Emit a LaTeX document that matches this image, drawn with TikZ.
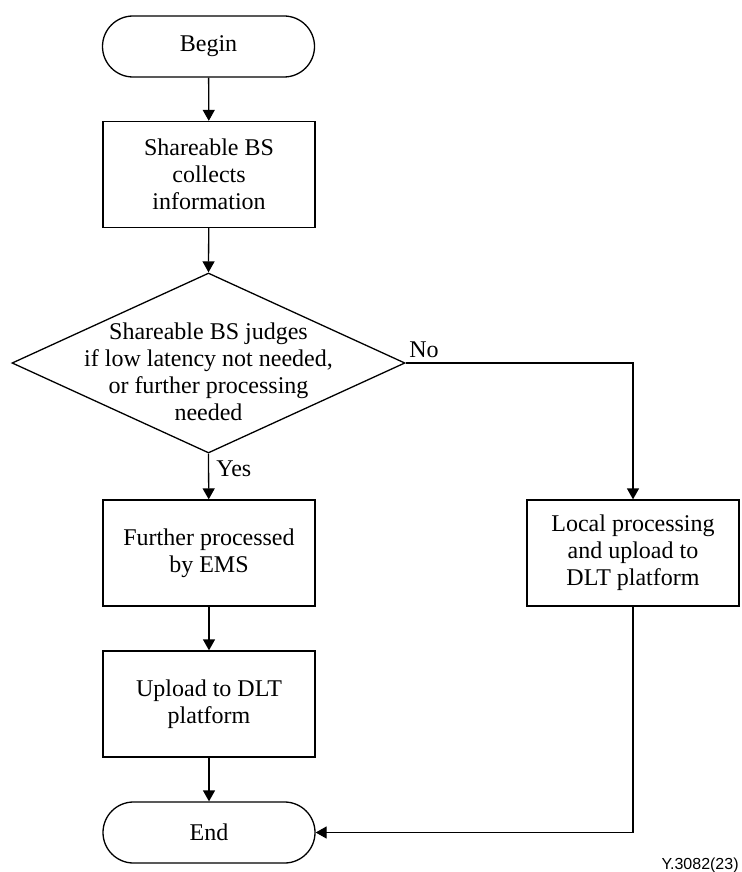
\documentclass[tikz,border=0pt]{standalone}
\usepackage{fontspec}
\setmainfont{Liberation Serif}
\newfontfamily\labelfont{Liberation Sans}
\usetikzlibrary{shapes.geometric,arrows.meta}
\begin{document}
\begin{tikzpicture}[x=0.5pt,y=-0.5pt,
  every node/.style={font=\fontsize{12}{13.5}\selectfont},
  line/.style={line width=0.65pt},
  arr/.style={line, -{Triangle[length=5.5pt,width=6pt]}},
  term/.style={draw, line width=0.65pt, rounded corners=15.25pt, minimum width=106pt, minimum height=30.5pt, inner sep=0pt},
  proc/.style={draw, line width=0.65pt, minimum width=106pt, minimum height=53pt, inner sep=0pt, align=center},
  decide/.style={diamond, draw, line width=0.65pt, minimum width=196.5pt, minimum height=90pt, inner sep=0pt},
  lbl/.style={inner sep=0pt}]
\useasboundingbox (0,0) rectangle (741,872);
\node[term] (begin) at (208.5,46.5) {Begin};
\node[proc] (collect) at (209,174.5) {Shareable BS\\collects\\information};
\node[decide] (judge) at (208.5,363) {};
\node[align=center, inner sep=0pt] (judgetext) at (208.5,372) {Shareable BS judges\\if low latency not needed,\\or further processing\\needed};
\node[proc] (ems) at (209,553) {Further processed\\by EMS};
\node[proc] (upload) at (209,704) {Upload to DLT\\platform};
\node[term] (end) at (209,832.5) {End};
\node[proc] (local) at (633,553) {Local processing\\and upload to\\DLT platform};
\node[lbl, anchor=base west] (no) at (409,357) {No};
\node[lbl, anchor=base west] (yes) at (216,476) {Yes};
\node[lbl, anchor=base east, font=\labelfont\fontsize{8}{9.6}\selectfont] (fig) at (739,869) {Y.3082(23)};
\draw[arr] (begin) -- (collect);
\draw[arr] (collect) -- (judge.north);
\draw[arr] (judge.south) -- (ems);
\draw[arr] (ems) -- (upload);
\draw[arr] (upload) -- (end);
\draw[arr] (judge.east) -| (local.north);
\draw[arr] (local.south) |- (end.east);
\end{tikzpicture}
\end{document}
